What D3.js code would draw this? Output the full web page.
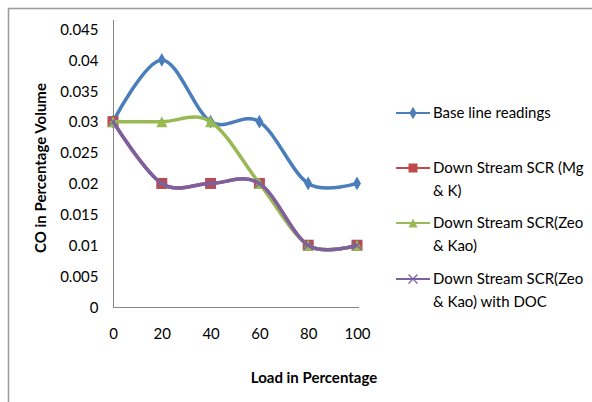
<!DOCTYPE html>
<html>
<head>
<meta charset="utf-8">
<script src="https://cdn.jsdelivr.net/npm/d3@7"></script>
<style>
  html, body { margin: 0; padding: 0; background: #ffffff; }
  svg { display: block; }
  text { font-family: Lato, "Open Sans", sans-serif; fill: #000; }
</style>
</head>
<body>
<svg id="chart" width="592" height="402"></svg>
<script>
// Engine load (%) on the x axis
const loads = [0, 20, 40, 60, 80, 100];
const xTicks = [0, 20, 40, 60, 80, 100];
const yTicks = [0, 0.005, 0.01, 0.015, 0.02, 0.025, 0.03, 0.035, 0.04, 0.045];

// CO (% volume) for each configuration
const baseline = [0.03, 0.04, 0.03, 0.03, 0.02, 0.02];
const scrMgK = [0.03, 0.02, 0.02, 0.02, 0.01, 0.01];
const scrZeoKao = [0.03, 0.03, 0.03, 0.02, 0.01, 0.01];
const scrZeoKaoDoc = [0.03, 0.02, 0.02, 0.02, 0.01, 0.01];

const seriesNames = [
  ["Base line readings"],
  ["Down Stream SCR (Mg", "& K)"],
  ["Down Stream SCR(Zeo", "& Kao)"],
  ["Down Stream SCR(Zeo", "& Kao) with DOC"]
];
const seriesColors = ["#4a7ebb", "#be4b48", "#98b954", "#7d60a0"];
const seriesMarkers = ["diamond", "square", "triangle", "cross"];
const seriesValues = [baseline, scrMgK, scrZeoKao, scrZeoKaoDoc];

const FONT = 15;
const svg = d3.select("#chart");

// chart frame
svg.append("path")
  .attr("d", "M8.5,402 V8.5 H592")
  .attr("fill", "none")
  .attr("stroke", "#9a9a9a")
  .attr("stroke-width", 1.5);

const x = d3.scaleLinear().domain([0, 100]).range([113, 357]);
const y = d3.scaleLinear().domain([0, 0.045]).range([307, 29]);

// y axis
const yAxis = svg.append("g")
  .attr("transform", "translate(113.5,0)")
  .call(d3.axisLeft(y).tickValues(yTicks).tickSize(0).tickPadding(15)
    .tickFormat(d => d3.format("")(+d.toFixed(3))));
yAxis.select(".domain").attr("stroke", "#868686").attr("d", `M0,${y(0)}V${y(0.045) - 9}`);
yAxis.selectAll("text").attr("font-size", FONT).attr("dy", "0.35em");

// x axis
const xAxis = svg.append("g")
  .attr("transform", `translate(0,${y(0) + 0.5})`)
  .call(d3.axisBottom(x).tickValues(xTicks).tickSize(0).tickPadding(21));
xAxis.select(".domain").attr("stroke", "#868686").attr("d", `M${x(0)},0H${x(100) + 2}`);
xAxis.selectAll("text").attr("font-size", FONT);

// axis titles
svg.append("text")
  .attr("transform", "translate(41,168) rotate(-90)")
  .attr("text-anchor", "middle")
  .attr("dy", "0.35em")
  .attr("font-size", FONT)
  .attr("font-weight", "bold")
  .text("CO in Percentage Volume");

svg.append("text")
  .attr("x", 314).attr("y", 378)
  .attr("dy", "0.35em")
  .attr("text-anchor", "middle")
  .attr("font-size", FONT)
  .attr("font-weight", "bold")
  .text("Load in Percentage");

// marker shapes
function marker(g, type, color, size) {
  if (type === "diamond") {
    g.append("path").attr("d", d3.symbol(d3.symbolDiamond, size * size * 0.55)())
      .attr("fill", color);
  } else if (type === "square") {
    g.append("rect").attr("x", -size / 2).attr("y", -size / 2)
      .attr("width", size).attr("height", size).attr("fill", color);
  } else if (type === "triangle") {
    g.append("path").attr("d", `M0,${-size / 2}L${size / 2},${size / 2}L${-size / 2},${size / 2}Z`)
      .attr("fill", color);
  } else {
    const h = size / 2;
    g.append("path").attr("d", `M${-h},${-h}L${h},${h}M${-h},${h}L${h},${-h}`)
      .attr("stroke", color).attr("stroke-width", 1.2).attr("fill", "none");
  }
}

const line = d3.line()
  .x((d, i) => x(loads[i]))
  .y(d => y(d))
  .curve(d3.curveCatmullRom.alpha(0));

const markerSizes = [10, 11, 11, 9];

seriesValues.forEach((vals, s) => {
  const g = svg.append("g");
  g.append("path")
    .datum(vals)
    .attr("d", line)
    .attr("fill", "none")
    .attr("stroke", seriesColors[s])
    .attr("stroke-width", 3.5)
    .attr("stroke-linejoin", "round");
  vals.forEach((v, i) => {
    const m = g.append("g").attr("transform", `translate(${x(loads[i])},${y(v)})`);
    marker(m, seriesMarkers[s], seriesColors[s], markerSizes[s]);
  });
});

// legend
const legendY = [113, 168, 223, 279];
seriesNames.forEach((lines, s) => {
  const g = svg.append("g").attr("transform", `translate(0,${legendY[s]})`);
  g.append("line").attr("x1", 396).attr("x2", 430).attr("y1", 0).attr("y2", 0)
    .attr("stroke", seriesColors[s]).attr("stroke-width", 2);
  const m = g.append("g").attr("transform", "translate(413,0)");
  marker(m, seriesMarkers[s], seriesColors[s], 9);
  lines.forEach((t, k) => {
    g.append("text").attr("x", 433).attr("y", k * 23).attr("dy", "0.35em")
      .attr("font-size", FONT).text(t);
  });
});
</script>
</body>
</html>
